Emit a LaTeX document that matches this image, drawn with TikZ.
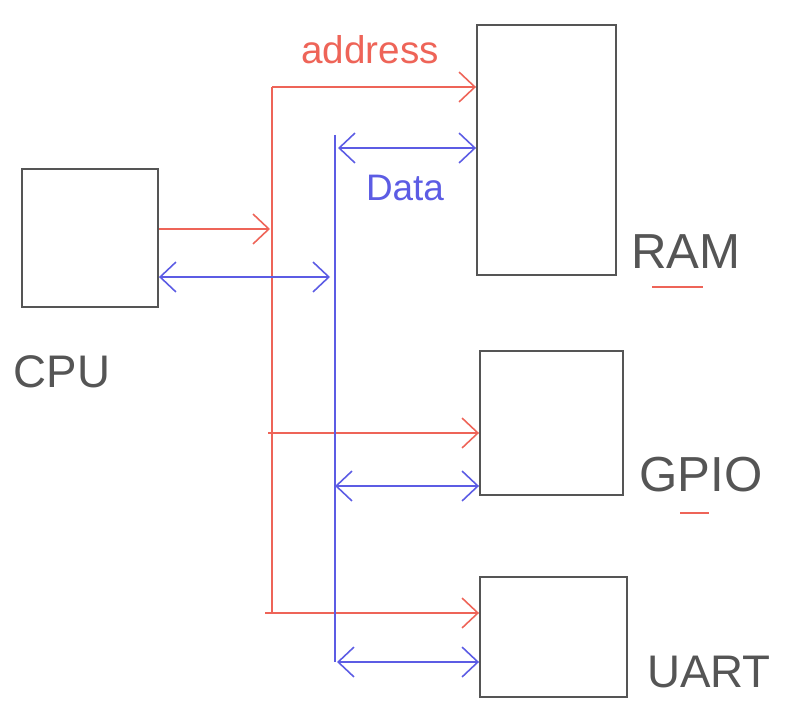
\documentclass[tikz,border=0pt]{standalone}
\usepackage{fontspec}
\setmainfont{Liberation Sans}
\usetikzlibrary{arrows.meta}
\definecolor{addrRed}{RGB}{238,100,88}
\definecolor{dataBlue}{RGB}{92,92,228}
\definecolor{penGray}{RGB}{85,85,85}
\begin{document}
\begin{tikzpicture}[x=0.02cm, y=-0.02cm,
        box/.style={draw=penGray, line width=1.1pt, inner sep=0pt},
        tag/.style={text=penGray, inner sep=0pt},
        addr/.style={draw=addrRed, line width=0.9pt},
        data/.style={draw=dataBlue, line width=0.9pt},
        barb/.tip={Straight Barb[length=9pt, width=17pt]}]
    \useasboundingbox (0,0) rectangle (790,716);

    \node[box, minimum width=2.72cm, minimum height=2.76cm] (cpu) at (90,238) {};
    \node[box, minimum width=2.78cm, minimum height=5cm] (ram) at (546.5,150) {};
    \node[box, minimum width=2.86cm, minimum height=2.88cm] (gpio) at (551.5,423) {};
    \node[box, minimum width=2.94cm, minimum height=2.4cm] (uart) at (553.5,637) {};

    \node[tag, font=\fontsize{26}{30}\selectfont] (cpu label) at (62,372) {CPU};
    \node[tag, font=\fontsize{28}{32}\selectfont] (ram label) at (686,252) {RAM};
    \node[tag, font=\fontsize{28}{32}\selectfont] (gpio label) at (701,475) {GPIO};
    \node[tag, font=\fontsize{26}{30}\selectfont] (uart label) at (709,672) {UART};
    \node[tag, text=addrRed, font=\fontsize{22}{26}\selectfont] (addr label) at (370,50) {address};
    \node[tag, text=dataBlue, font=\fontsize{21}{25}\selectfont] (data label) at (405,188) {Data};

    % address bus
    \coordinate (abus top) at (272,87);
    \coordinate (abus end) at (272,613);
    \draw[addr] (abus top) -- (abus end);
    \coordinate (a in) at (270,229);
    \draw[addr, -barb] (cpu.east |- a in) -- (a in);
    \draw[addr, -barb] (abus top) -- (ram.west |- abus top);
    \coordinate (a gpio) at (268,433);
    \draw[addr, -barb] (a gpio) -- (gpio.west |- a gpio);
    \coordinate (a uart) at (265,613);
    \draw[addr, -barb] (a uart) -- (uart.west |- a uart);

    % data bus
    \coordinate (dbus top) at (335,135);
    \coordinate (dbus end) at (335,662);
    \draw[data] (dbus top) -- (dbus end);
    \coordinate (d in) at (330,277);
    \draw[data, barb-barb] (cpu.east |- d in) -- (d in);
    \coordinate (d ram) at (338,148);
    \draw[data, barb-barb] (d ram) -- (ram.west |- d ram);
    \coordinate (d gpio) at (335,486);
    \draw[data, barb-barb] (d gpio) -- (gpio.west |- d gpio);
    \coordinate (d uart) at (337,662);
    \draw[data, barb-barb] (d uart) -- (uart.west |- d uart);

    \draw[addr] (652,287) -- (703,287);
    \draw[addr] (680,513) -- (709,513);
\end{tikzpicture}
\end{document}
